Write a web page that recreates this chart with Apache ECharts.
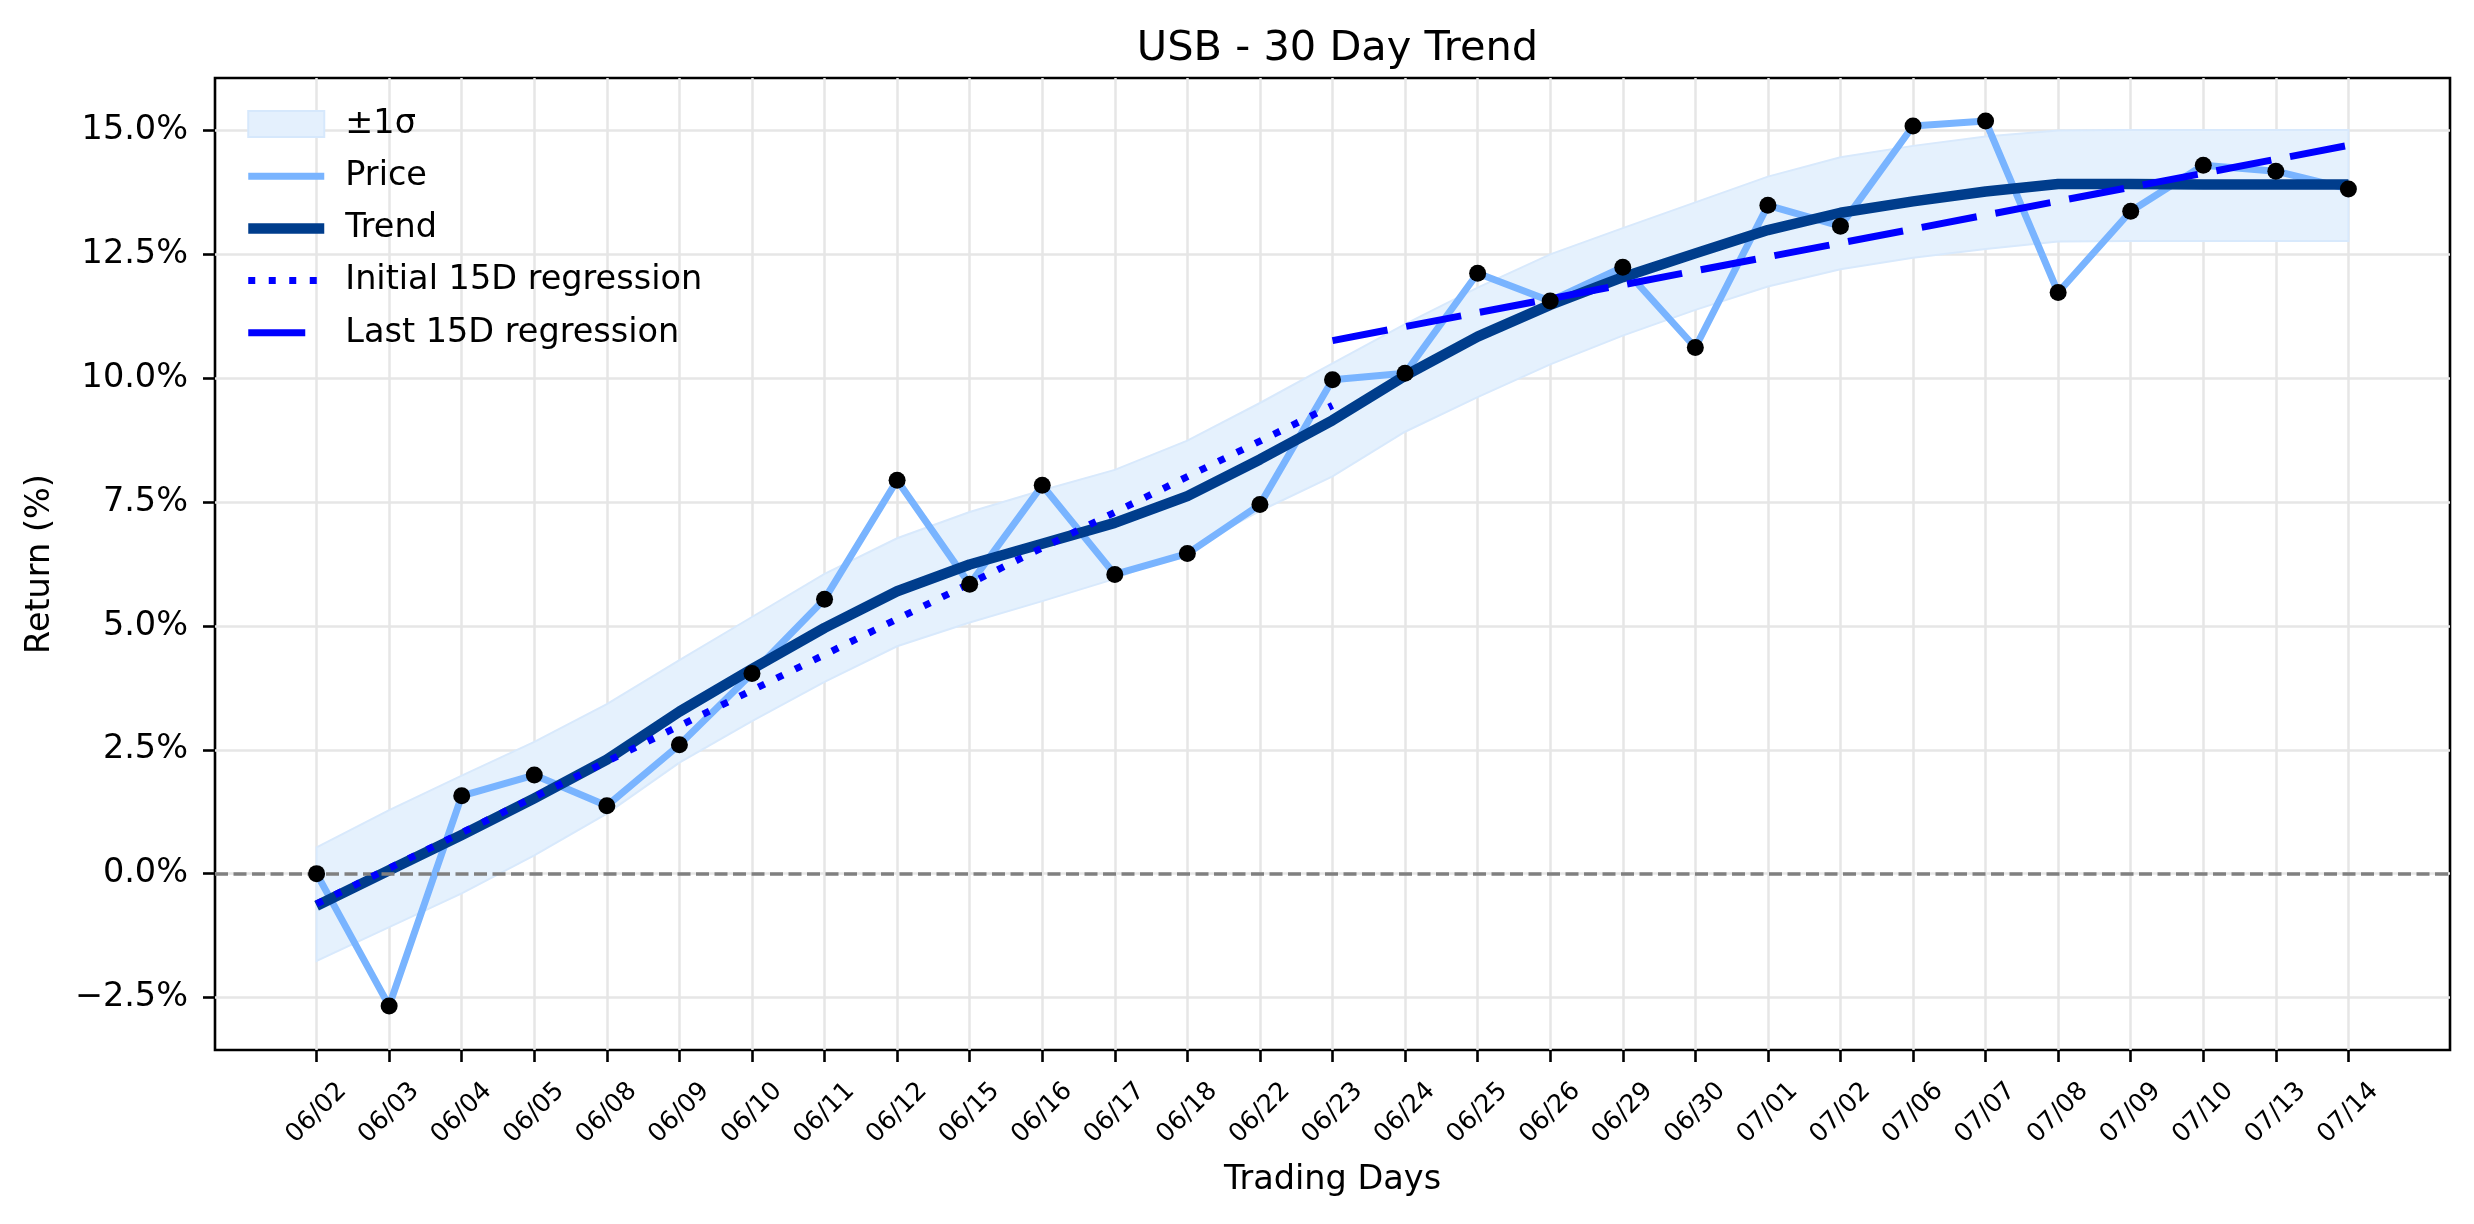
<!DOCTYPE html>
<html><head><meta charset="utf-8">
<script src="https://cdn.jsdelivr.net/npm/echarts@6/dist/echarts.min.js"></script>
<style>html,body{margin:0;padding:0;background:#fff}#c{width:2474px;height:1224px}</style>
</head><body><div id="c"></div>
<script>
const dates = ['06/02','06/03','06/04','06/05','06/08','06/09','06/10','06/11','06/12','06/15','06/16','06/17','06/18','06/22','06/23','06/24','06/25','06/26','06/29','06/30','07/01','07/02','07/06','07/07','07/08','07/09','07/10','07/13','07/14'];
const price = [0.00,-2.67,1.57,1.99,1.37,2.60,4.04,5.54,7.94,5.84,7.84,6.04,6.46,7.45,9.97,10.10,12.12,11.56,12.24,10.62,13.49,13.07,15.09,15.19,11.73,13.37,14.30,14.18,13.82];
const trend = [-0.65,0.07,0.78,1.52,2.30,3.27,4.13,4.96,5.70,6.24,6.66,7.08,7.62,8.36,9.15,10.05,10.84,11.48,12.04,12.52,12.99,13.34,13.57,13.77,13.92,13.92,13.91,13.91,13.91];
const bandUpper = [0.53,1.28,1.98,2.66,3.42,4.31,5.18,6.05,6.77,7.30,7.74,8.15,8.74,9.50,10.30,11.09,11.83,12.50,13.03,13.55,14.07,14.46,14.69,14.88,15.00,15.01,15.01,15.01,15.01];
const bandLower = [-1.76,-1.08,-0.40,0.37,1.21,2.24,3.08,3.87,4.59,5.07,5.50,5.95,6.53,7.32,8.02,8.92,9.62,10.28,10.86,11.38,11.85,12.20,12.43,12.61,12.76,12.77,12.77,12.77,12.77];
const initialRegIdx = [0, 14];
const initialRegVal = [-0.61, 9.45];
const lastRegIdx = [14, 28];
const lastRegVal = [10.76, 14.70];
const yTicks = [-2.5, 0, 2.5, 5, 7.5, 10, 12.5, 15];
const zeroLevel = 0;

const FONT = 'DejaVu Sans';
const xIdx = dates.map((d, i) => i);
const chart = echarts.init(document.getElementById('c'), null, {renderer: 'canvas'});
const noSym = {color: 'rgba(0,0,0,0)', borderColor: 'rgba(0,0,0,0)', borderWidth: 0, opacity: 0};

const option = {
  animation: false,
  backgroundColor: '#ffffff',
  textStyle: {fontFamily: FONT, color: '#000'},
  title: {
    text: 'USB - 30 Day Trend',
    left: 1332.5, top: 23, textAlign: 'center',
    textStyle: {fontFamily: FONT, fontSize: 41.5, fontWeight: 'normal', color: '#000'}
  },
  grid: {left: 215, right: 24, top: 78, bottom: 174, containLabel: false, outerBoundsMode: 'none',
    show: true, borderColor: '#000', borderWidth: 2.6, backgroundColor: 'transparent'},
  legend: {
    orient: 'vertical', left: 243, top: 107, padding: 0,
    itemWidth: 76, itemHeight: 26, itemGap: 18.2,
    textStyle: {fontFamily: FONT, fontSize: 33.5, color: '#000', padding: [0, 0, 0, 16]},
    data: [
      {name: '±1σ', icon: 'rect', itemStyle: {color: '#e4f0fd', borderColor: '#d6e8fc', borderWidth: 2}},
      {name: 'Price', lineStyle: {width: 7}, itemStyle: noSym},
      {name: 'Trend', lineStyle: {width: 10.5}, itemStyle: noSym},
      {name: 'Initial 15D regression', lineStyle: {width: 7}, itemStyle: noSym},
      {name: 'Last 15D regression', lineStyle: {width: 7, type: [57, 40]}, itemStyle: noSym}
    ]
  },
  xAxis: {
    type: 'value', min: -1.4, max: 29.4,
    name: 'Trading Days', nameLocation: 'middle', nameGap: 113,
    nameTextStyle: {fontFamily: FONT, fontSize: 33.5, color: '#000'},
    axisLine: {show: false, onZero: false},
    axisTick: {show: true, length: 12, inside: false, customValues: xIdx, lineStyle: {color: '#000', width: 2.6}},
    axisLabel: {show: true, customValues: xIdx, rotate: 45, align: 'center', verticalAlign: 'middle', margin: 63,
      fontFamily: FONT, fontSize: 25.5, color: '#000', hideOverlap: false,
      formatter: v => dates[Math.round(v)] || ''},
    splitLine: {show: true, lineStyle: {color: '#e6e6e6', width: 2.5}}
  },
  yAxis: {
    type: 'value', min: -3.56, max: 16.06,
    name: 'Return (%)', nameLocation: 'middle', nameGap: 158, nameRotate: 90,
    nameTextStyle: {fontFamily: FONT, fontSize: 33.5, color: '#000'},
    axisLine: {show: false, onZero: false},
    axisTick: {show: true, length: 12, inside: false, customValues: yTicks, lineStyle: {color: '#000', width: 2.6}},
    axisLabel: {show: true, customValues: yTicks, margin: 27, fontFamily: FONT, fontSize: 33.5, color: '#000',
      formatter: v => (v < 0 ? '\u2212' : '') + Math.abs(v).toFixed(1) + '%'},
    splitLine: {show: true, lineStyle: {color: '#e6e6e6', width: 2.5}}
  },
  series: [
    {
      name: '±1σ', type: 'custom', z: 1,
      itemStyle: {color: '#e4f0fd', borderColor: '#d6e8fc', borderWidth: 2},
      data: dates.map((d, i) => [i, bandLower[i], bandUpper[i]]),
      encode: {x: 0, y: [1, 2]},
      renderItem: function (params, api) {
        if (params.dataIndex !== 0) return null;
        const pts = [];
        for (let i = 0; i < dates.length; i++) pts.push(api.coord([i, bandUpper[i]]));
        for (let i = dates.length - 1; i >= 0; i--) pts.push(api.coord([i, bandLower[i]]));
        return {type: 'polygon', shape: {points: pts}, style: {fill: '#e5f1fd', stroke: '#d8e9fc', lineWidth: 2}};
      }
    },
    {
      name: 'Price', type: 'line', z: 3, symbol: 'none', showSymbol: false,
      data: dates.map((d, i) => [i, price[i]]),
      lineStyle: {color: '#79b4ff', width: 7, join: 'round'},
      itemStyle: {color: '#79b4ff'},
      markLine: {
        silent: true, symbol: ['none', 'none'], label: {show: false},
        lineStyle: {color: '#808080', width: 3.5, type: [13, 5.5]},
        data: [{yAxis: zeroLevel}]
      }
    },
    {
      name: 'Trend', type: 'line', z: 4, symbol: 'none', showSymbol: false,
      data: dates.map((d, i) => [i, trend[i]]),
      lineStyle: {color: '#003d8c', width: 10.5, join: 'round'},
      itemStyle: {color: '#003d8c'}
    },
    {
      name: 'Initial 15D regression', type: 'line', z: 5, symbol: 'none', showSymbol: false,
      data: initialRegIdx.map((x, i) => [x, initialRegVal[i]]),
      lineStyle: {color: '#0000ff', width: 7, type: [7, 13.5], cap: 'butt'},
      itemStyle: {color: '#0000ff'}
    },
    {
      name: 'Last 15D regression', type: 'line', z: 5, symbol: 'none', showSymbol: false,
      data: lastRegIdx.map((x, i) => [x, lastRegVal[i]]),
      lineStyle: {color: '#0000ff', width: 7, type: [56, 19], cap: 'butt'},
      itemStyle: {color: '#0000ff'}
    },
    {
      name: 'points', type: 'scatter', z: 6, symbol: 'circle', symbolSize: 17,
      data: dates.map((d, i) => [i, price[i]]),
      itemStyle: {color: '#000', opacity: 1}
    }
  ]
};
chart.setOption(option);
</script></body></html>
